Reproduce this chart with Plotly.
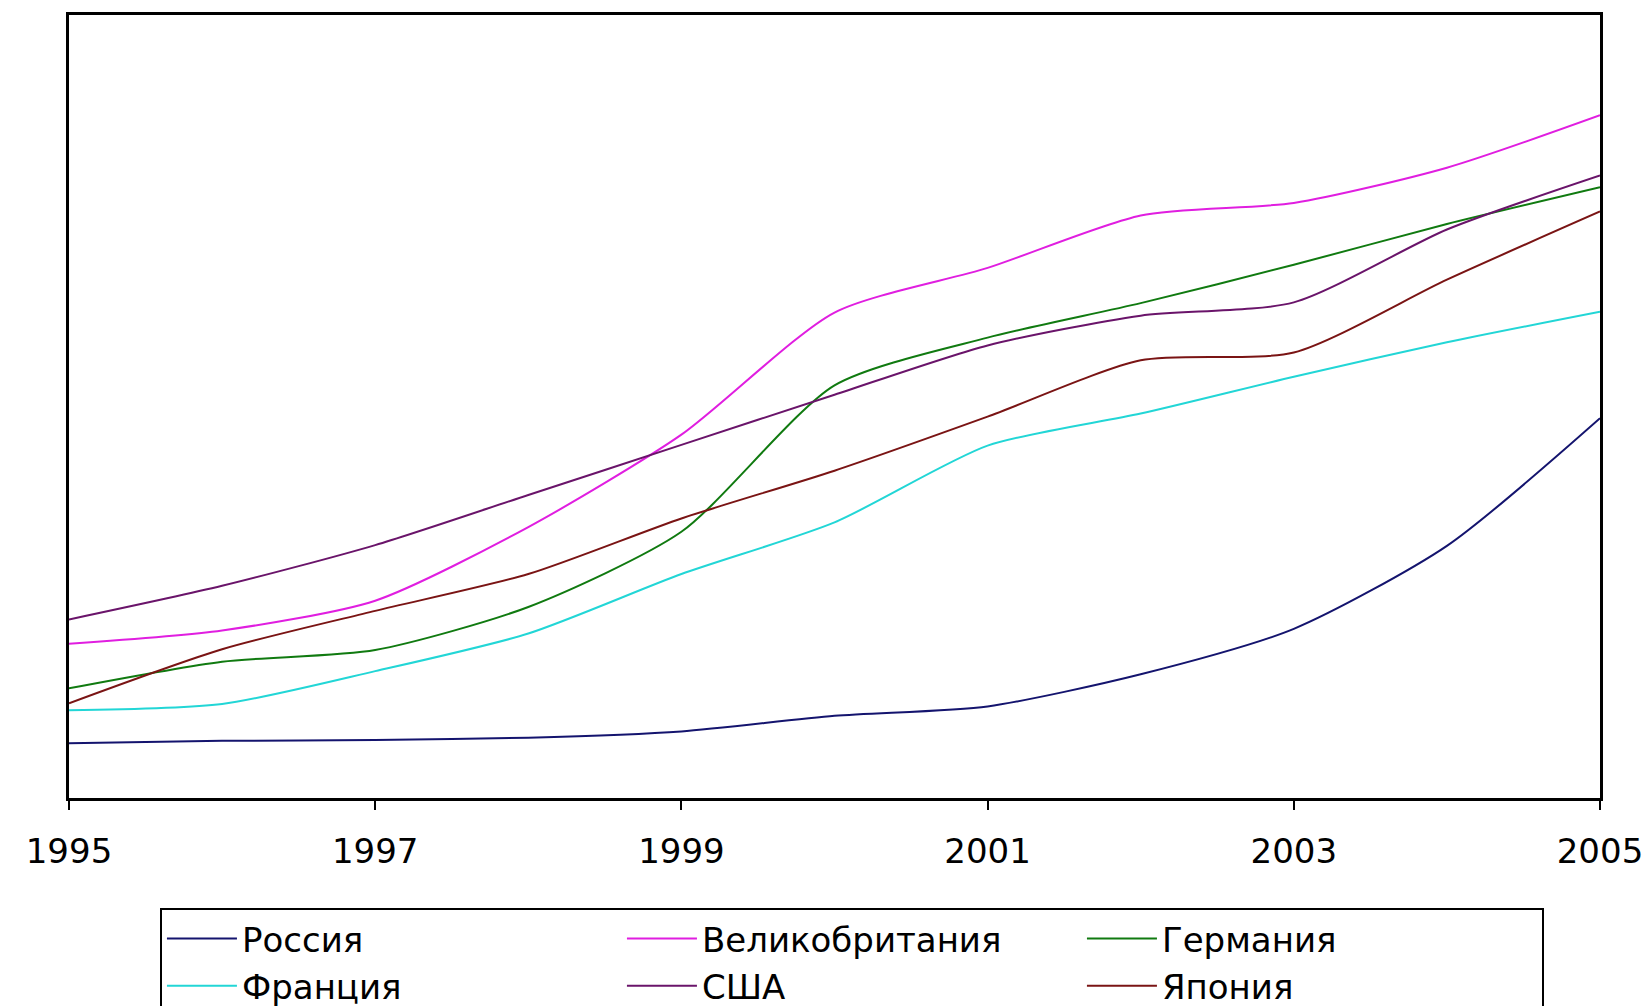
import plotly.graph_objects as go

years = [1995, 1996, 1997, 1998, 1999, 2000, 2001, 2002, 2003, 2004, 2005]

russia = [7.0, 7.3, 7.4, 7.7, 8.5, 10.5, 11.7, 15.8, 21.6, 32.2, 48.5]
france = [11.2, 12.0, 16.2, 21.0, 28.6, 35.2, 45.0, 49.1, 53.8, 58.2, 62.1]
germany = [14.0, 17.4, 18.9, 24.4, 34.0, 52.7, 58.8, 63.2, 68.1, 73.3, 78.0]
uk = [19.7, 21.4, 25.2, 34.6, 46.4, 62.0, 67.7, 74.4, 76.0, 80.5, 87.2]
usa = [22.8, 27.1, 32.3, 38.7, 45.1, 51.5, 57.8, 61.6, 63.3, 72.6, 79.5]
japan = [12.1, 19.0, 23.9, 28.6, 35.7, 41.8, 48.7, 55.9, 56.9, 66.2, 74.9]

# legend order: row1 Россия, Великобритания, Германия; row2 Франция, США, Япония
series = [
    ("Россия", russia, "#14146e"),
    ("Великобритания", uk, "#e01ee0"),
    ("Германия", germany, "#107a10"),
    ("Франция", france, "#22d6d6"),
    ("США", usa, "#6a146a"),
    ("Япония", japan, "#7a1414"),
]

tick_years = [1995, 1997, 1999, 2001, 2003, 2005]

fig = go.Figure()
for name, vals, color in series:
    fig.add_trace(go.Scatter(
        x=years, y=vals, name=name, mode="lines",
        line=dict(color=color, width=2, shape="spline", smoothing=0.7),
    ))

FONT = "DejaVu Sans"
fig.update_layout(
    width=1652, height=1006,
    margin=dict(l=61, r=60, t=7, b=216, autoexpand=False),
    paper_bgcolor="white", plot_bgcolor="white",
    font=dict(family=FONT, size=34, color="black"),
    showlegend=True,
    legend=dict(
        orientation="h", x=0.0594, y=-0.1405, xanchor="left", yanchor="top",
        bordercolor="black", borderwidth=2, bgcolor="white",
        font=dict(family=FONT, size=34, color="black"),
        itemwidth=70, traceorder="normal",
        entrywidth=375, entrywidthmode="pixels",
    ),
    xaxis=dict(
        range=[1995, 2005], tickvals=tick_years, ticktext=[str(y) for y in tick_years],
        ticks="outside", ticklen=9, tickwidth=2, tickcolor="black",
        showline=True, linecolor="black", linewidth=3, mirror=True,
        showgrid=False, zeroline=False, ticklabelstandoff=12, automargin=False,
        tickfont=dict(family=FONT, size=34, color="black"),
    ),
    yaxis=dict(
        range=[0, 100], showticklabels=False, ticks="",
        showline=True, linecolor="black", linewidth=3, mirror=True,
        showgrid=False, zeroline=False, automargin=False,
    ),
)

fig.write_html("out.html")
